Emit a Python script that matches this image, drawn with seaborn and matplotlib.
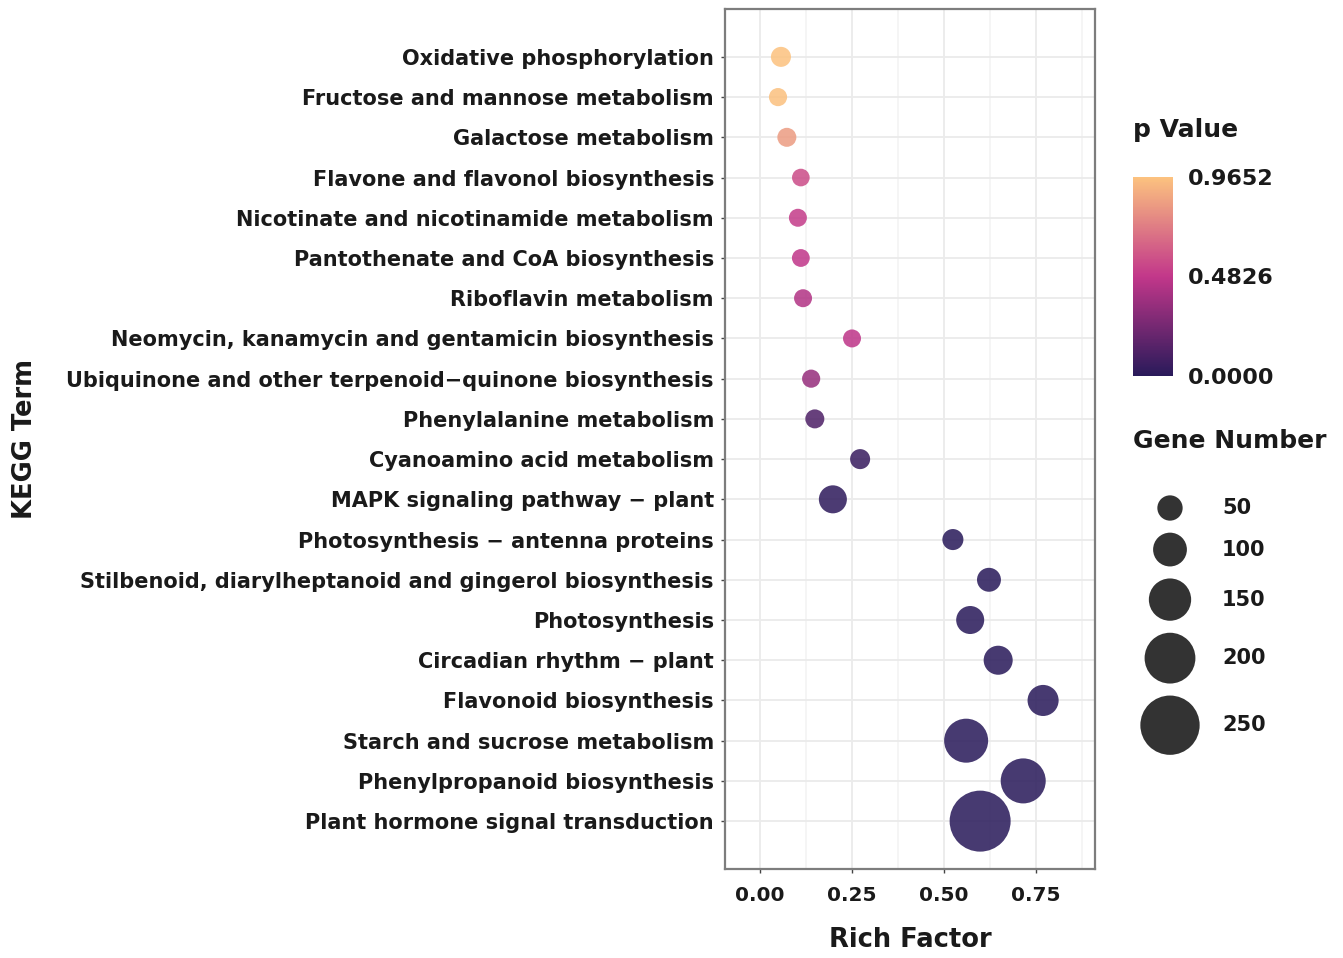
import numpy as np
import pandas as pd
import seaborn as sns
import matplotlib
matplotlib.use("Agg")
import matplotlib.pyplot as plt
from matplotlib.colors import LinearSegmentedColormap, Normalize
from matplotlib.cm import ScalarMappable

# KEGG enrichment results, listed top to bottom
terms = [
    "Oxidative phosphorylation",
    "Fructose and mannose metabolism",
    "Galactose metabolism",
    "Flavone and flavonol biosynthesis",
    "Nicotinate and nicotinamide metabolism",
    "Pantothenate and CoA biosynthesis",
    "Riboflavin metabolism",
    "Neomycin, kanamycin and gentamicin biosynthesis",
    "Ubiquinone and other terpenoid\u2212quinone biosynthesis",
    "Phenylalanine metabolism",
    "Cyanoamino acid metabolism",
    "MAPK signaling pathway \u2212 plant",
    "Photosynthesis \u2212 antenna proteins",
    "Stilbenoid, diarylheptanoid and gingerol biosynthesis",
    "Photosynthesis",
    "Circadian rhythm \u2212 plant",
    "Flavonoid biosynthesis",
    "Starch and sucrose metabolism",
    "Phenylpropanoid biosynthesis",
    "Plant hormone signal transduction",
]
rich_factor = [0.057, 0.049, 0.073, 0.111, 0.103, 0.111, 0.117, 0.250, 0.139, 0.149,
               0.272, 0.198, 0.524, 0.622, 0.571, 0.647, 0.769, 0.560, 0.715, 0.598]
gene_number = [19, 8, 13, 5, 7, 6, 7, 7, 8, 13,
               19, 66, 25, 42, 66, 72, 84, 160, 166, 260]
p_value = [0.9652, 0.955, 0.83, 0.56, 0.50, 0.48, 0.43, 0.47, 0.35, 0.12,
           0.05, 0.02, 0.0008, 0.0006, 0.0004, 0.0003, 0.0002, 0.0001, 0.00005, 0.0]

size_breaks = [50, 100, 150, 200, 250]
x_ticks = [0.00, 0.25, 0.50, 0.75]
gradient_colors = ["#291A5A", "#C2378A", "#FCC27F"]

df = pd.DataFrame({"term": terms, "rich": rich_factor,
                   "genes": gene_number, "p": p_value})

sns.set_theme(style="white")
plt.rcParams["font.family"] = ["DejaVu Sans"]
plt.rcParams["font.weight"] = "bold"

W, H, DPI = 1343, 958, 100
fig = plt.figure(figsize=(W / DPI, H / DPI), dpi=DPI)


def px_box(x0, y0, x1, y1):
    return [x0 / W, 1 - y1 / H, (x1 - x0) / W, (y1 - y0) / H]


def diameter_px(n):
    # point diameter grows linearly with the gene count
    return 16.8 + 0.17 * n


def marker_area(n):
    return (diameter_px(n) * 72 / DPI) ** 2


cmap = LinearSegmentedColormap.from_list("pgrad", gradient_colors)
p_min, p_max = min(p_value), max(p_value)

ax = fig.add_axes(px_box(725, 9, 1095, 869))
sns.scatterplot(data=df, x="rich", y="term", hue="p", size="genes",
                sizes={n: marker_area(n) for n in df["genes"].unique()},
                hue_norm=(p_min, p_max), palette=cmap, alpha=0.86,
                linewidth=0, legend=False, ax=ax, zorder=3)

ax.set_xlim(-0.095, 0.910)
ax.set_ylim(len(terms) - 1 + 1.19, -1.19)
ax.set_xticks(x_ticks)
ax.set_xticklabels([f"{v:.2f}" for v in x_ticks])
ax.set_xticks([v + 0.125 for v in x_ticks], minor=True)
ax.grid(which="major", color="#EBEBEB", linewidth=1.3)
ax.grid(which="minor", axis="x", color="#F2F2F2", linewidth=1.1)
ax.set_axisbelow(True)
for sp in ax.spines.values():
    sp.set_color("#7d7d7d")
    sp.set_linewidth(1.6)

ax.tick_params(axis="y", which="major", left=True, length=3, width=1,
               color="#444444", pad=5, labelsize=15, labelcolor="#1a1a1a")
ax.tick_params(axis="x", which="major", bottom=True, length=3, width=1,
               color="#444444", pad=9, labelsize=14.5, labelcolor="#1a1a1a")
ax.tick_params(which="minor", length=0)

ax.set_xlabel("Rich Factor", fontsize=18.5, fontweight="bold", color="#1a1a1a")
ax.xaxis.label.set_va("center")
ax.xaxis.set_label_coords(0.5, (869 - 940) / 860)
ax.set_ylabel("KEGG Term", fontsize=18.5, fontweight="bold", color="#1a1a1a")
ax.yaxis.label.set_va("center")
ax.yaxis.set_label_coords((25 - 725) / 370, 0.5)

# colour bar for the p values
cax = fig.add_axes(px_box(1133, 177, 1173, 376))
sm = ScalarMappable(norm=Normalize(p_min, p_max), cmap=cmap)
cb_ticks = [p_min, (p_min + p_max) / 2, p_max]
cb = fig.colorbar(sm, cax=cax, ticks=cb_ticks)
cb.ax.set_yticklabels([f"{v:.4f}" for v in cb_ticks])
cb.outline.set_visible(False)
cb.ax.tick_params(direction="in", length=7, width=1.2, color="white",
                  left=True, right=True, labelsize=16, pad=11,
                  labelcolor="#1a1a1a")
fig.text(1133 / W, 1 - 130 / H, "p Value", fontsize=18, fontweight="bold",
         ha="left", va="center", color="#1a1a1a")

# size key for the gene counts
fig.text(1133 / W, 1 - 441 / H, "Gene Number", fontsize=18, fontweight="bold",
         ha="left", va="center", color="#1a1a1a")
lax = fig.add_axes([0, 0, 1, 1], zorder=5)
lax.set_xlim(0, W)
lax.set_ylim(H, 0)
lax.axis("off")
lax.patch.set_alpha(0)
centers = []
y = 508.0
for i, b in enumerate(size_breaks):
    if i > 0:
        y += (diameter_px(size_breaks[i - 1]) + diameter_px(b)) / 2 + 12
    centers.append(y)
lax.scatter([1170] * len(size_breaks), centers,
            s=[marker_area(b) for b in size_breaks], color="#333333",
            linewidth=0)
for b, cy in zip(size_breaks, centers):
    lax.text(1222, cy, str(b), fontsize=15, fontweight="bold",
             ha="left", va="center", color="#1a1a1a")

fig.savefig("out.png", dpi=DPI, facecolor="white")
